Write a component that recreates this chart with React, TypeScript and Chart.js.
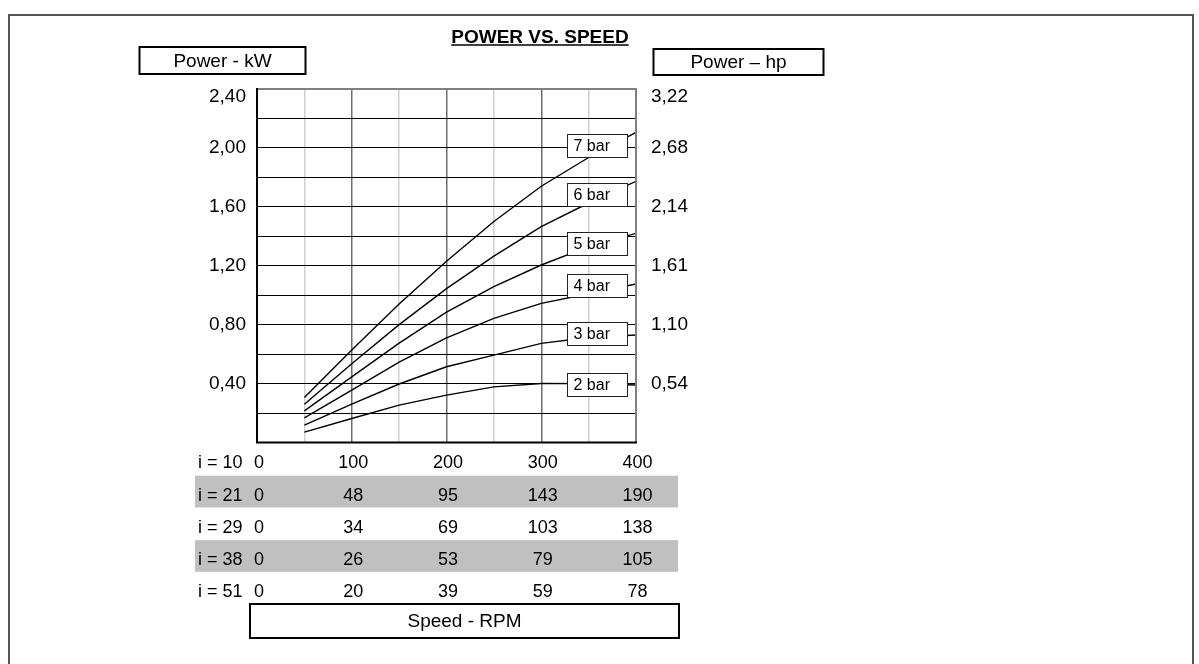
import React, { useEffect, useRef } from 'react';
import { Chart, registerables } from 'chart.js';

Chart.register(...registerables);

// ---- data ----
const speedRpm = [50, 100, 150, 200, 250, 300, 350, 400];
const seriesLabels = ['2 bar', '3 bar', '4 bar', '5 bar', '6 bar', '7 bar'];
const bar2 = [0.07, 0.163, 0.254, 0.322, 0.378, 0.401, 0.4, 0.39];
const bar3 = [0.118, 0.26, 0.397, 0.514, 0.593, 0.673, 0.713, 0.73];
const bar4 = [0.167, 0.356, 0.545, 0.71, 0.843, 0.945, 1.01, 1.076];
const bar5 = [0.215, 0.446, 0.675, 0.885, 1.058, 1.205, 1.33, 1.42];
const bar6 = [0.26, 0.535, 0.8, 1.045, 1.265, 1.466, 1.626, 1.773];
const bar7 = [0.306, 0.628, 0.94, 1.23, 1.5, 1.74, 1.935, 2.105];
const seriesValues = [bar2, bar3, bar4, bar5, bar6, bar7];

const labelRpm = 359;
const labelKw = [0.393, 0.743, 1.065, 1.353, 1.687, 2.016];

const kwTicks = [0.4, 0.8, 1.2, 1.6, 2.0, 2.4];
const hpTicks = ['0,54', '1,10', '1,61', '2,14', '2,68', '3,22'];

const ratioLabels = ['i = 10', 'i = 21', 'i = 29', 'i = 38', 'i = 51'];
const rpmColumns = [0, 100, 200, 300, 400];
const ratio10 = [0, 100, 200, 300, 400];
const ratio21 = [0, 48, 95, 143, 190];
const ratio29 = [0, 34, 69, 103, 138];
const ratio38 = [0, 26, 53, 79, 105];
const ratio51 = [0, 20, 39, 59, 78];
const ratioRows = [ratio10, ratio21, ratio29, ratio38, ratio51];

const chartTitle = 'POWER VS. SPEED';
const leftTitle = 'Power - kW';
const rightTitle = 'Power \u2013 hp';
const bottomTitle = 'Speed - RPM';

const FONT = '"Liberation Sans", Arial, Helvetica, sans-serif';

function fmt(v: number) {
  return v.toFixed(2).replace('.', ',');
}

const decorPlugin = {
  id: 'decor',
  afterDatasetsDraw(chart: any) {
    const { ctx, chartArea: a, scales } = chart;
    const xs = scales.x;
    const ys = scales.y;
    ctx.save();
    // plot border
    ctx.lineWidth = 2;
    ctx.strokeStyle = '#808080';
    ctx.beginPath();
    ctx.moveTo(a.left, a.top);
    ctx.lineTo(a.right, a.top);
    ctx.lineTo(a.right, a.bottom);
    ctx.stroke();
    ctx.strokeStyle = '#000';
    ctx.beginPath();
    ctx.moveTo(a.left, a.top - 1);
    ctx.lineTo(a.left, a.bottom);
    ctx.lineTo(a.right + 1, a.bottom);
    ctx.stroke();

    // series label boxes
    ctx.font = `16px ${FONT}`;
    ctx.textBaseline = 'middle';
    ctx.textAlign = 'left';
    seriesLabels.forEach((lab, i) => {
      const cx = xs.getPixelForValue(labelRpm);
      const cy = ys.getPixelForValue(labelKw[i]);
      const w = 60;
      const h = 23;
      const x0 = Math.round(cx - w / 2) + 0.5;
      const y0 = Math.round(cy - h / 2) + 0.5;
      ctx.fillStyle = '#fff';
      ctx.fillRect(x0, y0, w, h);
      ctx.lineWidth = 1;
      ctx.strokeStyle = '#222';
      ctx.strokeRect(x0, y0, w, h);
      ctx.fillStyle = '#000';
      ctx.fillText(lab, x0 + 6, y0 + h / 2 + 1);
    });
    ctx.restore();
  },
  afterDraw(chart: any) {
    const { ctx, scales } = chart;
    const xs = scales.x;
    const ys = scales.y;
    ctx.save();

    // outer frame
    ctx.strokeStyle = '#555';
    ctx.lineWidth = 2;
    ctx.strokeRect(9, 15, 1184, 700);

    // title
    ctx.fillStyle = '#000';
    ctx.font = `bold 19px ${FONT}`;
    ctx.textAlign = 'center';
    ctx.textBaseline = 'alphabetic';
    const tw = ctx.measureText(chartTitle).width;
    ctx.fillText(chartTitle, 540, 43);
    ctx.lineWidth = 1.5;
    ctx.strokeStyle = '#000';
    ctx.beginPath();
    ctx.moveTo(540 - tw / 2, 45);
    ctx.lineTo(540 + tw / 2, 45);
    ctx.stroke();

    // axis title boxes
    const box = (x: number, y: number, w: number, h: number, t: string) => {
      ctx.lineWidth = 2;
      ctx.strokeStyle = '#000';
      ctx.strokeRect(x, y, w, h);
      ctx.font = `19px ${FONT}`;
      ctx.textAlign = 'center';
      ctx.textBaseline = 'middle';
      ctx.fillStyle = '#000';
      ctx.fillText(t, x + w / 2, y + h / 2 + 1);
    };
    box(139.5, 47, 166, 27, leftTitle);
    box(653.5, 49, 170, 26, rightTitle);
    box(250, 604, 429, 34, bottomTitle);

    // tick labels
    ctx.font = `19px ${FONT}`;
    ctx.textBaseline = 'middle';
    kwTicks.forEach((v, i) => {
      let y = ys.getPixelForValue(v);
      if (v === ys.max) y += 8;
      ctx.textAlign = 'right';
      ctx.fillText(fmt(v), 246, y);
      ctx.textAlign = 'left';
      ctx.fillText(hpTicks[i], 651, y);
    });

    // speed table
    const rowY0 = 463.5;
    const rowStep = 32.2;
    ratioRows.forEach((row, r) => {
      const cy = rowY0 + r * rowStep;
      if (r % 2 === 1) {
        ctx.fillStyle = '#c0c0c0';
        ctx.fillRect(195, cy - 20, 483, 31.7);
      }
    });
    ctx.fillStyle = '#000';
    ctx.font = `18px ${FONT}`;
    ratioRows.forEach((row, r) => {
      const cy = rowY0 + r * rowStep;
      ctx.textAlign = 'left';
      ctx.fillText(ratioLabels[r], 198, cy);
      row.forEach((v, j) => {
        const x = xs.getPixelForValue(rpmColumns[j]);
        if (j === 0) {
          ctx.textAlign = 'left';
          ctx.fillText(String(v), x - 3, cy);
        } else {
          ctx.textAlign = 'center';
          ctx.fillText(String(v), x + 1.5, cy);
        }
      });
    });
    ctx.restore();
  },
};

export default function App() {
  const ref = useRef<HTMLCanvasElement | null>(null);
  useEffect(() => {
    if (!ref.current) return;
    const chart = new Chart(ref.current, {
      type: 'line',
      data: {
        datasets: seriesValues.map((vals, i) => ({
          label: seriesLabels[i],
          data: vals.map((y, k) => ({ x: speedRpm[k], y })),
          borderColor: '#000',
          borderWidth: 1.4,
          pointRadius: 0,
          fill: false,
          tension: 0,
        })),
      },
      options: {
        responsive: false,
        animation: false,
        devicePixelRatio: 1,
        layout: { padding: { left: 257, right: 563, top: 89, bottom: 221.5 } },
        plugins: { legend: { display: false }, tooltip: { enabled: false }, title: { display: false } },
        scales: {
          x: {
            type: 'linear',
            min: 0,
            max: 400,
            ticks: { display: false, stepSize: 50 },
            border: { display: false },
            grid: {
              drawTicks: false,
              color: (c: any) => (Math.round(c.tick.value) % 100 === 0 ? '#6f6f6f' : '#d0d0d0'),
              lineWidth: 1.5,
            },
          },
          y: {
            type: 'linear',
            min: 0,
            max: 2.4,
            ticks: { display: false, stepSize: 0.2 },
            border: { display: false },
            grid: { drawTicks: false, color: '#000', lineWidth: 1 },
          },
        },
      },
      plugins: [decorPlugin],
    } as any);
    return () => chart.destroy();
  }, []);
  return (
    <div style={{ position: 'fixed', left: 0, top: 0, width: 1199, height: 664, background: '#fff' }}>
      <canvas ref={ref} width={1199} height={664} style={{ display: 'block' }} />
    </div>
  );
}
